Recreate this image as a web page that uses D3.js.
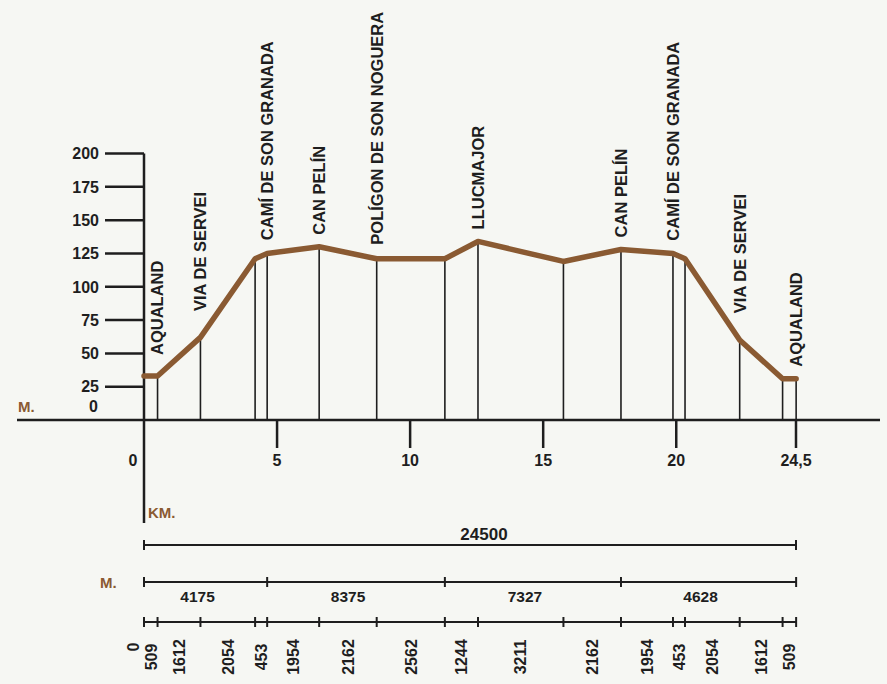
<!DOCTYPE html>
<html>
<head>
<meta charset="utf-8">
<script src="https://cdn.jsdelivr.net/npm/d3@7"></script>
<style>
body { margin: 0; background: #f6f7f3; }
text { font-family: "Liberation Sans", Arial, sans-serif; font-weight: bold; fill: #1e1e1e; }
</style>
</head>
<body>
<div class="center"></div>
<script>
// segment lengths in metres (bottom row)
var segments = [509, 1612, 2054, 453, 1954, 2162, 2562, 1244, 3211, 2162, 1954, 453, 2054, 1612, 509];
// elevation (m) at the start and at the end of every segment
var elevations = [33, 33, 62, 121, 125, 130, 121, 121, 134, 119, 128, 125, 121, 60, 31, 31];
// place names and the point they belong to
var places = ["AQUALAND", "VIA DE SERVEI", "CAMÍ DE SON GRANADA", "CAN PELÍN", "POLÍGON DE SON NOGUERA",
              "LLUCMAJOR", "CAN PELÍN", "CAMÍ DE SON GRANADA", "VIA DE SERVEI", "AQUALAND"];
var placePoints = [1, 2, 4, 5, 6, 8, 10, 11, 13, 15];
// axes
var yTicks = [25, 50, 75, 100, 125, 150, 175, 200];
var kmTicks = [5, 10, 15, 20, 24.5];
var kmLabels = ["5", "10", "15", "20", "24,5"];
// summary rows
var totalLength = 24500;
var stageLabels = ["4175", "8375", "7327", "4628"];
var stageBreaks = [0, 4, 7, 10, 15];   // point index where each stage tick sits

var brown = "#8a5a32",
    ink = "#1e1e1e";

var width = 887, height = 684;

// cumulative distance (km) of each point
var dist = [0];
segments.forEach(function(s, i) { dist.push(dist[i] + s / 1000); });
var points = dist.map(function(d, i) { return {km: d, m: elevations[i]}; });

var x = d3.scaleLinear().domain([0, 24.5]).range([144, 796]);
var y = d3.scaleLinear().domain([0, 200]).range([420, 153.5]);

// elevation along the route, piecewise linear between points
var elevAt = d3.scaleLinear().domain(dist).range(elevations).clamp(true);

var svg = d3.select(".center").append("svg")
    .attr("width", width)
    .attr("height", height);

// drop lines from the profile down to the base
svg.selectAll(".drop")
    .data(points.slice(1))
    .enter().append("line")
    .attr("x1", function(d) { return x(d.km); })
    .attr("x2", function(d) { return x(d.km); })
    .attr("y1", y(0))
    .attr("y2", function(d) { return y(d.m); })
    .attr("stroke", ink)
    .attr("stroke-width", 1.6);

// base line and vertical axis
svg.append("line")
    .attr("x1", 17).attr("x2", 880)
    .attr("y1", y(0)).attr("y2", y(0))
    .attr("stroke", ink).attr("stroke-width", 2.5);

svg.append("line")
    .attr("x1", x(0)).attr("x2", x(0))
    .attr("y1", y(200)).attr("y2", 523)
    .attr("stroke", ink).attr("stroke-width", 2.5);

// y ticks
svg.selectAll(".ytick")
    .data(yTicks)
    .enter().append("line")
    .attr("x1", 105).attr("x2", x(0))
    .attr("y1", function(d) { return y(d); })
    .attr("y2", function(d) { return y(d); })
    .attr("stroke", ink).attr("stroke-width", 2.5);

svg.selectAll(".ylab")
    .data(yTicks)
    .enter().append("text")
    .attr("x", 99)
    .attr("y", function(d) { return y(d); })
    .attr("dy", "0.36em")
    .attr("text-anchor", "end")
    .attr("font-size", "16px")
    .text(function(d) { return d; });

svg.append("text")
    .attr("x", 98).attr("y", y(0) - 8)
    .attr("text-anchor", "end")
    .attr("font-size", "16px")
    .text("0");

svg.append("text")
    .attr("x", 18).attr("y", y(0) - 8)
    .attr("font-size", "15px")
    .style("fill", brown)
    .text("M.");

// km ticks
svg.selectAll(".xtick")
    .data(kmTicks)
    .enter().append("line")
    .attr("x1", function(d) { return x(d); })
    .attr("x2", function(d) { return x(d); })
    .attr("y1", y(0)).attr("y2", 448)
    .attr("stroke", ink).attr("stroke-width", 2.5);

svg.selectAll(".xlab")
    .data(kmTicks)
    .enter().append("text")
    .attr("x", function(d) { return x(d); })
    .attr("y", 466)
    .attr("text-anchor", "middle")
    .attr("font-size", "16px")
    .text(function(d, i) { return kmLabels[i]; });

svg.append("text")
    .attr("x", x(0) - 11).attr("y", 466)
    .attr("text-anchor", "middle")
    .attr("font-size", "16px")
    .text("0");

svg.append("text")
    .attr("x", x(0) + 4).attr("y", 518)
    .attr("font-size", "15px")
    .style("fill", brown)
    .text("KM.");

// elevation profile
var profile = d3.line()
    .x(function(d) { return x(d.km); })
    .y(function(d) { return y(d.m); });

svg.append("path")
    .datum(points)
    .attr("d", profile)
    .attr("fill", "none")
    .attr("stroke", brown)
    .attr("stroke-width", 5.5)
    .attr("stroke-linejoin", "round")
    .attr("stroke-linecap", "round");

// place names: sit just above the highest bit of the profile under the text
function labelBase(px) {
    var top = 0;
    for (var dx = -10; dx <= 10; dx++) {
        top = Math.max(top, elevAt(x.invert(px + dx)));
    }
    return y(top) - 12;
}

svg.selectAll(".place")
    .data(places)
    .enter().append("text")
    .attr("transform", function(d, i) {
        var px = x(points[placePoints[i]].km);
        return "translate(" + px + "," + labelBase(px) + ") rotate(-90)";
    })
    .attr("dy", "0.36em")
    .attr("font-size", "16.5px")
    .text(function(d) { return d; });

// row 1: total length
var r1 = 545;
svg.append("line")
    .attr("x1", x(0)).attr("x2", x(totalLength / 1000))
    .attr("y1", r1).attr("y2", r1)
    .attr("stroke", ink).attr("stroke-width", 2);
svg.selectAll(".cap1")
    .data([0, totalLength / 1000])
    .enter().append("line")
    .attr("x1", function(d) { return x(d); })
    .attr("x2", function(d) { return x(d); })
    .attr("y1", r1 - 5).attr("y2", r1 + 5)
    .attr("stroke", ink).attr("stroke-width", 2);
svg.append("text")
    .attr("x", x(totalLength / 2000) + 14).attr("y", r1 - 5)
    .attr("text-anchor", "middle")
    .attr("font-size", "17px")
    .text(totalLength);

// row 2: stages
var r2 = 582;
svg.append("line")
    .attr("x1", x(0)).attr("x2", x(dist[dist.length - 1]))
    .attr("y1", r2).attr("y2", r2)
    .attr("stroke", ink).attr("stroke-width", 2);
svg.selectAll(".cap2")
    .data(stageBreaks)
    .enter().append("line")
    .attr("x1", function(d) { return x(dist[d]); })
    .attr("x2", function(d) { return x(dist[d]); })
    .attr("y1", r2 - 5).attr("y2", r2 + 5)
    .attr("stroke", ink).attr("stroke-width", 2);
svg.selectAll(".stage")
    .data(stageLabels)
    .enter().append("text")
    .attr("x", function(d, i) { return (x(dist[stageBreaks[i]]) + x(dist[stageBreaks[i + 1]])) / 2 - 8; })
    .attr("y", r2 + 20)
    .attr("text-anchor", "middle")
    .attr("font-size", "15.5px")
    .text(function(d) { return d; });
svg.append("text")
    .attr("x", 100).attr("y", r2 + 6)
    .attr("font-size", "15px")
    .style("fill", brown)
    .text("M.");

// row 3: every segment
var r3 = 622;
svg.append("line")
    .attr("x1", x(0)).attr("x2", x(dist[dist.length - 1]))
    .attr("y1", r3).attr("y2", r3)
    .attr("stroke", ink).attr("stroke-width", 2);
svg.selectAll(".cap3")
    .data(dist)
    .enter().append("line")
    .attr("x1", function(d) { return x(d); })
    .attr("x2", function(d) { return x(d); })
    .attr("y1", r3 - 5).attr("y2", r3 + 5)
    .attr("stroke", ink).attr("stroke-width", 2);
svg.selectAll(".seg")
    .data(segments)
    .enter().append("text")
    .attr("transform", function(d, i) {
        return "translate(" + x((dist[i] + dist[i + 1]) / 2) + "," + 657 + ") rotate(-90)";
    })
    .attr("dy", "0.36em")
    .attr("text-anchor", "middle")
    .attr("font-size", "16px")
    .text(function(d) { return d; });
svg.append("text")
    .attr("transform", "translate(" + (x(0) - 11) + ",647) rotate(-90)")
    .attr("dy", "0.36em")
    .attr("text-anchor", "middle")
    .attr("font-size", "16px")
    .text("0");
</script>
</body>
</html>
